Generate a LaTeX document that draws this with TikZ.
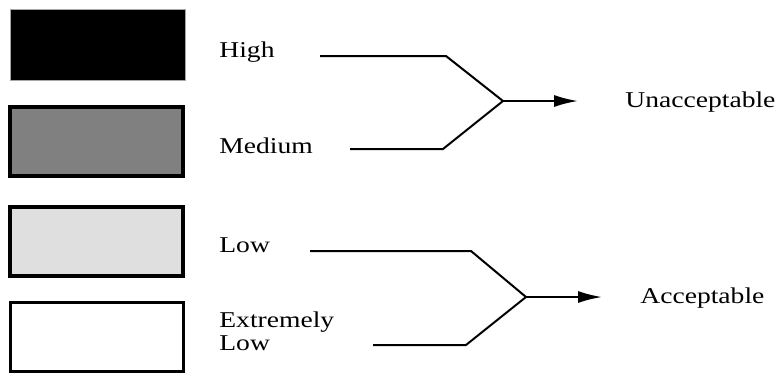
\documentclass[tikz,border=0pt]{standalone}
\usepackage{fontspec}
\setmainfont{Liberation Serif}[FakeStretch=1.22]
\usetikzlibrary{positioning,arrows.meta}

\begin{document}
\begin{tikzpicture}[x=0.5pt,y=-0.5pt,
    levelbox/.style={draw, line width=2pt, minimum width=86.5pt, minimum height=34.5pt, inner sep=0pt},
    lbl/.style={anchor=base west, inner sep=0pt, font=\fontsize{11.3}{11.5}\selectfont},
    wire/.style={line width=1pt},
    ]
    \useasboundingbox (0,0) rectangle (783,382);

    % colour boxes
    \node[levelbox, fill=black, draw=black!35, line width=0.5pt, minimum width=87.5pt, minimum height=35.5pt] (bhigh) at (97.5,44.5) {};
    \node[levelbox, fill=black!50] (bmed) at (96.5,141.5) {};
    \node[levelbox, fill=black!12.5] (blow) at (96.5,241) {};
    \node[levelbox, fill=white, line width=1.5pt] (bxlow) at (97,337) {};

    % labels
    \node[lbl] (high) at (219,57) {High};
    \node[lbl] (med) at (219,153) {Medium};
    \node[lbl] (low) at (219,252) {Low};
    \node[lbl, align=left] (xlow) at (219,350) {Extremely\\Low};
    \node[lbl] (unacc) at (625,107) {Unacceptable};
    \node[lbl] (acc) at (640,303) {Acceptable};

    % upper fork
    \coordinate (h0) at (320,56);
    \coordinate (m0) at (350,149);
    \coordinate (j1) at (503,101);
    \coordinate (t1) at (578,101);
    \draw[wire] (h0) -- (446,56) -- (j1);
    \draw[wire] (m0) -- (443,149) -- (j1);
    \draw[wire, -{Latex[length=12pt,width=6pt]}] (j1) -- (t1);

    % lower fork
    \coordinate (l0) at (310,251);
    \coordinate (x0) at (373,345);
    \coordinate (j2) at (526,297);
    \coordinate (t2) at (602,297);
    \draw[wire] (l0) -- (471,251) -- (j2);
    \draw[wire] (x0) -- (466,345) -- (j2);
    \draw[wire, -{Latex[length=12pt,width=6pt]}] (j2) -- (t2);
\end{tikzpicture}
\end{document}
